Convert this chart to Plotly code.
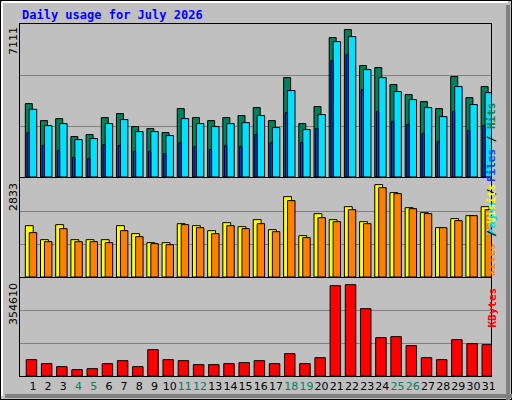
import plotly.graph_objects as go

days = list(range(1, 32))
hits = [3411,2621,2714,1878,1971,2761,2947,2343,2250,2064,3179,2761,2621,2761,2854,3226,2621,4620,2482,3272,6479,6851,5178,5085,4295,3830,3505,3179,4667,3690,4202]
pages = [3147,2389,2482,1738,1785,2482,2668,2110,2110,1924,2714,2482,2343,2482,2528,2854,2296,4016,2203,2900,6293,6526,4992,4620,3969,3597,3226,2807,4202,3365,3923]
files = [2063,1459,1227,902,855,1506,1459,1181,1181,1088,1599,1413,1274,1459,1413,1971,1599,2993,1599,2250,5410,5689,4062,3040,2575,2436,2017,1645,3040,2157,2389]
visits = [1469,1068,1498,1068,1068,1068,1469,1240,983,983,1526,1469,1326,1555,1440,1641,1355,2299,1183,1813,1641,2013,1584,2643,2414,1984,1841,1412,1670,1755,2013]
sites = [1269,1011,1383,1011,1011,983,1326,1154,954,925,1498,1412,1240,1469,1383,1526,1297,2185,1126,1698,1584,1927,1526,2557,2385,1956,1813,1412,1612,1755,1927]
kbytes = [59100,44600,33800,22900,26500,44600,55500,33800,95300,59100,55500,41000,41000,44600,48200,55500,44600,80800,44600,66300,326800,330400,243600,138700,142300,109700,66300,59100,131400,117000,113400]
weekend = [4,5,11,12,18,19,25,26]
max1, max2, max3 = 7111, 2833, 354610

fig = go.Figure()
line = dict(color="black", width=1)
def bar(y, color, off, w, xa, ya):
    fig.add_trace(go.Bar(x=days, y=y, offset=off, width=w, marker=dict(color=color, line=line),
                         xaxis=xa, yaxis=ya, showlegend=False, hoverinfo="skip"))
bar(hits, "#00805C", -0.15, 0.46, "x", "y")
bar(pages, "#00E0FF", 0.11, 0.49, "x", "y")
bar(files, "#0040FF", -0.04, 0.15, "x", "y")
bar(visits, "#FFFF00", -0.15, 0.52, "x2", "y2")
bar(sites, "#FF8000", 0.11, 0.49, "x2", "y2")
bar(kbytes, "#FF0000", -0.09, 0.69, "x3", "y3")

W, H = 512, 400
def dy(top, bot): return [1 - bot / H, 1 - top / H]
xdom = [20 / W, 491 / W]
ticktext = [f"<span style='color:{'#00805C' if d in weekend else 'black'}'>{d}</span>" for d in days]
common = dict(range=[0.5, 31.5], domain=xdom, showgrid=False, zeroline=False, showline=True,
              linecolor="black", mirror=True, fixedrange=True)
fig.update_layout(
    width=W, height=H, margin=dict(l=0, r=0, t=0, b=0, autoexpand=False),
    paper_bgcolor="#C0C0C0", plot_bgcolor="#C0C0C0", barmode="overlay",
    xaxis=dict(**common, anchor="y", showticklabels=False, ticks=""),
    xaxis2=dict(**common, anchor="y2", showticklabels=False, ticks=""),
    xaxis3=dict(**common, anchor="y3", tickvals=[d + 0.35 for d in days], ticktext=ticktext,
                ticks="", tickangle=0, automargin=False,
                tickfont=dict(family="DejaVu Sans", size=11, color="black")),
)
for name, mx, dom in [("yaxis", max1, dy(24, 177)), ("yaxis2", max2, dy(178, 277)), ("yaxis3", max3, dy(278, 376))]:
    fig.layout[name] = dict(domain=dom, range=[0, mx], tickvals=[mx / 3, 2 * mx / 3], showticklabels=False,
                            gridcolor="#808080", gridwidth=1, zeroline=False, showline=True,
                            linecolor="black", mirror=True, fixedrange=True)
fig.layout.yaxis2.anchor = "x2"
fig.layout.yaxis3.anchor = "x3"

ann = []
ann.append(dict(x=20 / W, y=1 - 15 / H, xref="paper", yref="paper", xanchor="left", yanchor="middle",
                text="<b>Daily usage for July 2026</b>", showarrow=False,
                font=dict(family="DejaVu Sans Mono", size=12, color="#0000FF")))
for txt, top in [("7111", 25), ("2833", 181), ("354610", 281)]:
    ann.append(dict(x=13 / W, y=1 - top / H, xref="paper", yref="paper", xanchor="center", yanchor="top",
                    text=txt, textangle=-90, showarrow=False, font=dict(family="DejaVu Sans", size=11, color="black")))
def sp(t, c): return f"<span style='color:{c}'>{t}</span>"
mono = dict(family="DejaVu Sans Mono", size=11)
ann.append(dict(x=500 / W, y=1 - 100 / H, xref="paper", yref="paper", textangle=-90, showarrow=False, font=mono,
                text="<b>" + sp("Pages", "#00E0FF") + sp(" / ", "black") + sp("Files", "#0040FF") + sp(" / ", "black") + sp("Hits", "#00805C") + "</b>"))
ann.append(dict(x=500 / W, y=1 - 230 / H, xref="paper", yref="paper", textangle=-90, showarrow=False, font=mono,
                text="<b>" + sp("Sites", "#FF8000") + sp(" / ", "black") + sp("Visits", "#FFFF00") + "</b>"))
ann.append(dict(x=500 / W, y=1 - 330 / H, xref="paper", yref="paper", textangle=-90, showarrow=False, font=mono,
                text="<b>" + sp("KBytes", "#FF0000") + "</b>"))
fig.update_layout(annotations=ann)

shapes = [
    dict(type="rect", xref="paper", yref="paper", x0=0, y0=0, x1=1, y1=1, line=dict(color="black", width=2)),
    dict(type="line", xref="paper", yref="paper", x0=1 - 4 / W, y0=0, x1=1 - 4 / W, y1=1 - 5 / H, line=dict(color="#808080", width=4)),
    dict(type="line", xref="paper", yref="paper", x0=5 / W, y0=4 / H, x1=1, y1=4 / H, line=dict(color="#808080", width=4)),
    dict(type="line", xref="paper", yref="paper", x0=2 / W, y0=4 / H, x1=2 / W, y1=1 - 2 / H, line=dict(color="white", width=2)),
    dict(type="line", xref="paper", yref="paper", x0=2 / W, y0=1 - 2 / H, x1=1 - 4 / W, y1=1 - 2 / H, line=dict(color="white", width=2)),
]
fig.update_layout(shapes=shapes)
fig.write_html("out.html", config={"displayModeBar": False},
               post_script="document.body.style.margin='0';document.body.style.overflow='hidden';")
